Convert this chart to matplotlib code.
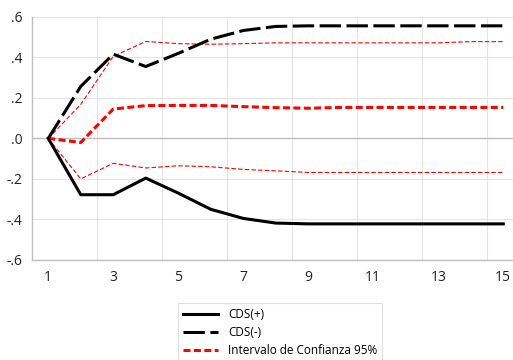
import numpy as np
import matplotlib
matplotlib.use('Agg')
import matplotlib.pyplot as plt
from matplotlib.ticker import FuncFormatter

plt.rcParams['font.family'] = ['Open Sans', 'DejaVu Sans']

#### Data
periods  = np.arange(1, 16)
cds_pos  = [0, -0.278, -0.278, -0.196, -0.27, -0.35, -0.395, -0.418,
            -0.422, -0.422, -0.422, -0.422, -0.422, -0.422, -0.422]
cds_neg  = [0, 0.257, 0.416, 0.355, 0.42, 0.49, 0.533, 0.553,
            0.556, 0.556, 0.556, 0.556, 0.556, 0.556, 0.556]
ci_mid   = [0, -0.02, 0.145, 0.162, 0.163, 0.163, 0.157, 0.152,
            0.149, 0.153, 0.153, 0.153, 0.153, 0.153, 0.153]
ci_upper = [0, 0.168, 0.405, 0.479, 0.468, 0.465, 0.468, 0.472,
            0.472, 0.472, 0.472, 0.472, 0.472, 0.478, 0.478]
ci_lower = [0, -0.2, -0.123, -0.146, -0.135, -0.14, -0.153, -0.16,
            -0.168, -0.168, -0.168, -0.168, -0.168, -0.168, -0.168]
xtick_vals = [1, 3, 5, 7, 9, 11, 13, 15]
ytick_vals = [-0.6, -0.4, -0.2, 0.0, 0.2, 0.4, 0.6]

fig = plt.figure(figsize=(5.13, 3.6), dpi=100)
ax = fig.add_axes([0.0624, 0.278, 0.9376, 0.675])

# grid: vertical lines between category pairs, horizontal at each tick
for xv in np.arange(2.5, 15, 2):
    ax.axvline(xv, color='#e4e4e4', lw=0.8, zorder=0)
for yv in ytick_vals:
    ax.axhline(yv, color='#e4e4e4', lw=0.8, zorder=0)
ax.axhline(0, color='#bfbfbf', lw=1.0, zorder=1)

ax.plot(periods, ci_upper, color='red', lw=0.8, dashes=(4, 2), zorder=2)
ax.plot(periods, ci_lower, color='red', lw=0.8, dashes=(4, 2), zorder=2)
ax.plot(periods, ci_mid, color='red', lw=2.2, dashes=(2.3, 1.1), zorder=3,
        label='Intervalo de Confianza 95%')
ax.plot(periods, cds_pos, color='black', lw=2.2, zorder=4, label='CDS(+)')
ax.plot(periods, cds_neg, color='black', lw=2.2, dashes=(7, 1.8), zorder=4,
        label='CDS(-)')

ax.set_xlim(0.5, 15.3)
ax.set_ylim(-0.6, 0.6)
ax.set_xticks(xtick_vals)
ax.set_yticks(ytick_vals)
ax.yaxis.set_major_formatter(FuncFormatter(
    lambda v, p: ('-' if v < -1e-9 else '') + ('%.1f' % abs(v)).lstrip('0')))
ax.tick_params(length=0, labelsize=10, colors='#222222', pad=7)

for s in ['top', 'right']:
    ax.spines[s].set_visible(False)
for s in ['left', 'bottom']:
    ax.spines[s].set_color('#bfbfbf')
    ax.spines[s].set_linewidth(1.0)

handles, labels = ax.get_legend_handles_labels()
order = [1, 2, 0]
leg = fig.legend([handles[i] for i in order], [labels[i] for i in order],
                 loc='upper left', bbox_to_anchor=(0.335, 0.176),
                 fontsize=8.5, frameon=True, fancybox=False, handlelength=3,
                 borderpad=0.45, labelspacing=0.45)
leg.get_frame().set_edgecolor('#d9d9d9')
leg.get_frame().set_linewidth(0.8)

fig.savefig('out.png', dpi=100)
